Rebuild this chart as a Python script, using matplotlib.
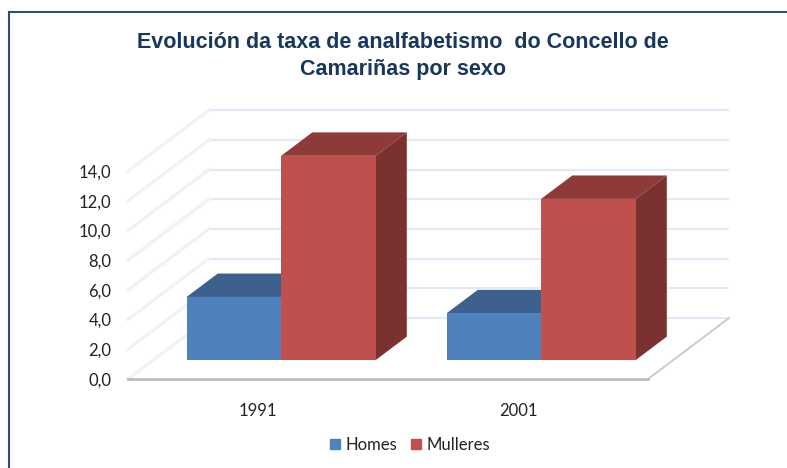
import matplotlib
matplotlib.use('Agg')
import matplotlib.pyplot as plt
from matplotlib.patches import Rectangle

categories = ['1991', '2001']
homes = [4.25, 3.15]
mulleres = [13.75, 10.85]
y_ticks = [0, 2, 4, 6, 8, 10, 12, 14]
y_labels = ['0,0', '2,0', '4,0', '6,0', '8,0', '10,0', '12,0', '14,0']
title = 'Evolución da taxa de analfabetismo  do Concello de\nCamariñas por sexo'

W, H = 787, 468

# oblique depth of the floor, in data units
depth_x = 81 / 260
depth_y = 4.1
bar_w = 0.3635
bar_start = 0.31     # where the bars sit in the depth, 0 front 1 back
bar_depth = 0.385

fig = plt.figure(figsize=(W / 100, H / 100), dpi=100)
ax = fig.add_axes([128 / W, 1 - 379 / H, 520 / W, 208 / H])
ax.set_xlim(-0.5, 1.5)
ax.set_ylim(0, 14)
ax.patch.set_alpha(0)

# frame around the chart, only left and top are inside the picture
fig.patches.append(Rectangle((9 / W, -0.02), 1, 1 - 12 / H + 0.02, transform=fig.transFigure,
                             fill=False, ec='#2f5075', lw=1.5))

# back wall and side wall gridlines
for t in y_ticks:
    ax.plot([-0.5 + depth_x, 1.5 + depth_x], [t + depth_y, t + depth_y], color='#e3eaf5', lw=1.6,
            clip_on=False, zorder=1, solid_capstyle='butt')
    ax.plot([-0.5, -0.5 + depth_x], [t, t + depth_y], color='#eff3f9', lw=2.4,
            clip_on=False, zorder=1)
# floor edge on the right
ax.plot([1.5, 1.5 + depth_x], [0, depth_y], color='#c8c8c8', lw=1.3, clip_on=False, zorder=1)


def draw_bar(x, v, front, top, side):
    sx = bar_start * depth_x - 0.0077
    sy = bar_start * depth_y
    dx = bar_depth * depth_x
    dy = bar_depth * depth_y
    # top and side faces of the box
    ax.fill([x + sx, x + sx + dx, x + sx + bar_w + dx, x + sx + bar_w],
            [v + sy, v + sy + dy, v + sy + dy, v + sy],
            color=top, clip_on=False, zorder=3, lw=0)
    ax.fill([x + sx + bar_w, x + sx + bar_w + dx, x + sx + bar_w + dx, x + sx + bar_w],
            [sy, sy + dy, v + sy + dy, v + sy],
            color=side, clip_on=False, zorder=3, lw=0)
    ax.bar(x + sx, v, width=bar_w, bottom=sy, align='edge', color=front,
           clip_on=False, zorder=4)


for i in range(len(categories)):
    draw_bar(i - bar_w, homes[i], '#4f81bd', '#3c618e', '#33537a')
for i in range(len(categories)):
    draw_bar(i, mulleres[i], '#c0504d', '#8e3a38', '#7a312f')

for s in ['top', 'left', 'right']:
    ax.spines[s].set_visible(False)
ax.spines['bottom'].set_color('#bcbcbc')
ax.spines['bottom'].set_linewidth(2)
ax.spines['bottom'].set_zorder(2)

ax.set_xticks(range(len(categories)))
ax.set_xticklabels(categories, fontfamily='Lato', fontsize=12, color='#222222')
ax.set_yticks(y_ticks)
ax.set_yticklabels(y_labels, fontfamily='Lato', fontsize=12, color='#222222')
ax.tick_params(length=0)
ax.tick_params(axis='x', pad=17)
ax.tick_params(axis='y', pad=12)

fig.text(403 / W, 1 - 56 / H, title, ha='center', va='center', fontfamily='Liberation Sans',
         fontweight='bold', fontsize=15.5, color='#17375e', linespacing=1.35)

h1 = Rectangle((0, 0), 1, 1, color='#4f81bd')
h2 = Rectangle((0, 0), 1, 1, color='#c0504d')
fig.legend([h1, h2], ['Homes', 'Mulleres'], loc='center', bbox_to_anchor=(410 / W, 1 - 445 / H),
           ncol=2, frameon=False, prop={'family': 'Lato', 'size': 12}, handlelength=0.6,
           handleheight=0.6, handletextpad=0.35, columnspacing=0.8, labelcolor='#222222')

fig.savefig('out.png', dpi=100)
